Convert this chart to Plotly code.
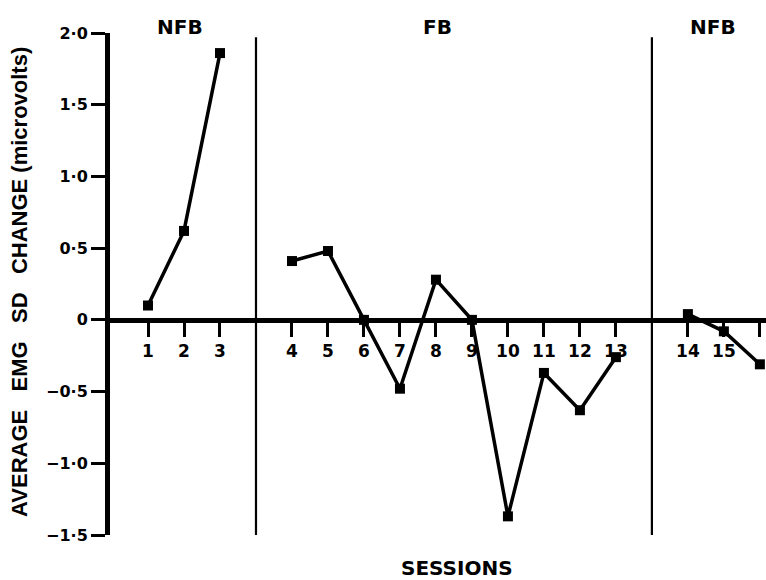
import plotly.graph_objects as go

# Session-by-session EMG SD change, grouped by condition phase
sessions = list(range(1, 17))
emg_change = [0.10, 0.62, 1.86, 0.41, 0.48, 0.00, -0.48, 0.28, 0.00,
              -1.37, -0.37, -0.63, -0.26, 0.04, -0.08, -0.31]
phase_names = ["NFB", "FB", "NFB"]
phase_sessions = [[1, 2, 3], list(range(4, 14)), [14, 15, 16]]

y_tick_vals = [2.0, 1.5, 1.0, 0.5, 0.0, -0.5, -1.0, -1.5]
y_tick_text = ["2·0", "1·5", "1·0", "0·5", "0", "−0·5", "−1·0", "−1·5"]

WIDE = "DejaVu Sans, Verdana, sans-serif"
NARROW = "Liberation Sans, Arial, sans-serif"

# Each phase is shifted one slot right of the previous, leaving a gap for the divider
position = {}
for k, group in enumerate(phase_sessions):
    for s in group:
        position[s] = s + k
value = dict(zip(sessions, emg_change))

fig = go.Figure()
for group in phase_sessions:
    fig.add_trace(go.Scatter(
        x=[position[s] for s in group],
        y=[value[s] for s in group],
        mode="lines+markers",
        line=dict(color="black", width=3.5),
        marker=dict(symbol="square", size=10, color="black"),
        showlegend=False,
        cliponaxis=False,
    ))

# Vertical dividers between phases
for k in range(len(phase_sessions) - 1):
    xd = (position[phase_sessions[k][-1]] + position[phase_sessions[k + 1][0]]) / 2
    fig.add_shape(type="line", xref="x", yref="y", x0=xd, x1=xd, y0=-1.52, y1=1.97,
                  line=dict(color="black", width=2.2))

# Phase labels
phase_label_x = [1.9, 9.05, 16.7]
for name, xl in zip(phase_names, phase_label_x):
    fig.add_annotation(x=xl, xref="x", y=1.012, yref="paper", text=name,
                       showarrow=False, yanchor="middle",
                       font=dict(family=WIDE, size=20, color="black", weight="bold"))

fig.add_annotation(x=0.529, xref="paper", y=-0.066, yref="paper", text="SESSIONS",
                   showarrow=False, yanchor="middle",
                   font=dict(family=WIDE, size=20, color="black", weight="bold"))

gap = "\u00a0" * 3
fig.add_annotation(x=-0.138, xref="paper", y=0.505, yref="paper",
                   text="<b>AVERAGE" + gap + "EMG" + gap + "SD" + gap + "CHANGE (microvolts)</b>",
                   textangle=-90, showarrow=False, xanchor="center", yanchor="middle",
                   font=dict(family=NARROW, size=22, color="black"))

y_lo, y_hi = -1.5, 2.0
fig.update_layout(
    width=766, height=580,
    margin=dict(l=110, r=0, t=33, b=45),
    paper_bgcolor="white", plot_bgcolor="white",
    xaxis=dict(
        range=[-0.056, 18.17],
        tickvals=[position[s] for s in sessions],
        ticktext=[str(s) for s in sessions],
        anchor="free", position=(0 - y_lo) / (y_hi - y_lo),
        showline=True, linecolor="black", linewidth=5,
        ticks="outside", ticklen=14, tickwidth=3, tickcolor="black",
        showgrid=False, zeroline=False,
        tickfont=dict(family=WIDE, size=17, color="black", weight="bold"),
    ),
    yaxis=dict(
        range=[y_lo, y_hi],
        tickvals=y_tick_vals, ticktext=y_tick_text,
        showline=True, linecolor="black", linewidth=5,
        ticks="outside", ticklen=14, tickwidth=3, tickcolor="black",
        showgrid=False, zeroline=False,
        tickfont=dict(family=WIDE, size=16, color="black", weight="bold"),
    ),
)

fig.write_html("out.html")
